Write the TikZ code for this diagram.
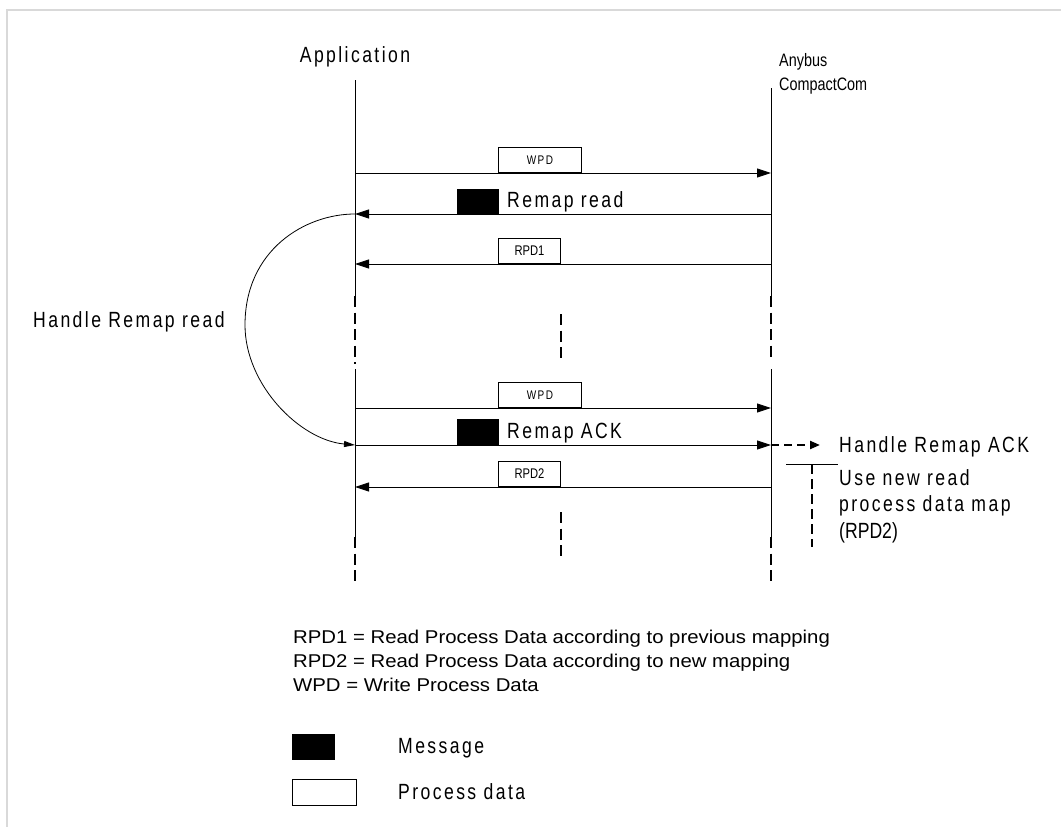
\documentclass[tikz,border=0pt]{standalone}
\usepackage{fontspec}
\setmainfont{Liberation Sans}
\newfontfamily\trackfont[FakeStretch=0.8,LetterSpace=11]{Liberation Sans}
\newfontfamily\narrowfont[FakeStretch=0.8]{Liberation Sans}
\newfontfamily\widefont[FakeStretch=1.1]{Liberation Sans}
\usetikzlibrary{arrows.meta}
\usetikzlibrary{positioning}

\tikzset{
  frame/.style={draw=black!15, line width=2pt},
  life/.style={line width=0.9pt},
  lifedash/.style={line width=2.8pt, dash pattern=on 11pt off 5.5pt},
  msg/.style={line width=0.9pt, -{Triangle[length=14pt,width=9pt]}},
  ackdash/.style={line width=2.2pt, dash pattern=on 8pt off 5pt, -{Triangle[length=10pt,width=8pt]}},
  curvearrow/.style={line width=0.8pt, -{Triangle[length=11pt,width=6pt]}},
  databox/.style={draw, line width=0.9pt, minimum height=25pt, inner sep=0pt,
    font=\narrowfont\fontsize{14}{16}\selectfont},
  msgbox/.style={fill=black, minimum width=42pt, minimum height=25pt, inner sep=0pt},
  lbl/.style={inner sep=0pt, font=\trackfont\fontsize{22}{26.5}\selectfont},
  legendtxt/.style={inner sep=0pt, font=\widefont\fontsize{18.5}{23}\selectfont}
}

\begin{document}
\begin{tikzpicture}[x=1pt,y=-1pt]
    \useasboundingbox (0,0) rectangle (1061,827);
    % Rahmen
    \draw[frame] (7,827) -- (7,10) -- (1061,10);

    % Teilnehmer
    \node[lbl, anchor=base] (app) at (355,62) {Application};
    \node[inner sep=0pt, anchor=base west, align=left,
          font=\narrowfont\fontsize{18}{24}\selectfont] (abcc) at (779,90) {Anybus\\CompactCom};

    % Lebenslinien
    \coordinate (aTop) at (355,80);  \coordinate (bTop) at (771,88);
    \coordinate (aD1) at (355,296);  \coordinate (bD1) at (771,296);
    \coordinate (aD2) at (355,364);  \coordinate (bD2) at (771,362);
    \coordinate (aS2) at (355,369);  \coordinate (bS2) at (771,369);
    \coordinate (aD3) at (355,537);  \coordinate (bD3) at (771,537);
    \coordinate (aEnd) at (355,581); \coordinate (bEnd) at (771,582);
    \draw[life] (aTop) -- (aD1);  \draw[life] (bTop) -- (bD1);
    \draw[lifedash] (aD1) -- (aD2);  \draw[lifedash] (bD1) -- (bD2);
    \draw[life] (aS2) -- (aD3);  \draw[life] (bS2) -- (bD3);
    \draw[lifedash] (aD3) -- (aEnd);  \draw[lifedash] (bD3) -- (bEnd);

    % mittlere Striche
    \coordinate (mA) at (561,314); \coordinate (mB) at (561,358);
    \coordinate (mC) at (561,512); \coordinate (mD) at (561,557);
    \draw[lifedash] (mA) -- (mB);
    \draw[lifedash] (mC) -- (mD);

    % Zyklus 1
    \coordinate (a1) at (355,173); \coordinate (b1) at (771,173);
    \coordinate (a2) at (355,214); \coordinate (b2) at (771,214);
    \coordinate (a3) at (355,264); \coordinate (b3) at (771,264);
    \draw[msg] (a1) -- (b1);
    \draw[msg] (b2) -- (a2);
    \draw[msg] (b3) -- (a3);
    \node[databox, minimum width=83pt, anchor=south west] (wpd1) at (498,173)
        {\trackfont\fontsize{12.5}{14}\selectfont WPD};
    \node[msgbox, anchor=south west] (mread) at (457,214) {};
    \node[lbl, anchor=base west] (tread) at (507,207.5) {Remap read};
    \node[databox, minimum width=62pt, anchor=south west] (rpd1) at (498,264) {RPD1};

    % Zyklus 2
    \coordinate (a4) at (355,408); \coordinate (b4) at (771,408);
    \coordinate (a5) at (355,445); \coordinate (b5) at (771,445);
    \coordinate (a6) at (355,487); \coordinate (b6) at (771,487);
    \draw[msg] (a4) -- (b4);
    \draw[msg] (a5) -- (b5);
    \draw[msg] (b6) -- (a6);
    \node[databox, minimum width=83pt, anchor=south west] (wpd2) at (498,408)
        {\trackfont\fontsize{12.5}{14}\selectfont WPD};
    \node[msgbox, minimum height=26pt, anchor=south west] (mack) at (457,445) {};
    \node[lbl, anchor=base west] (tack) at (507,438) {Remap ACK};
    \node[databox, minimum width=62pt, anchor=south west] (rpd2) at (498,487) {RPD2};

    % Handle Remap read
    \draw[curvearrow] (a2) .. controls (305,214) and (245,250) .. (245,325)
                     .. controls (245,385) and (300,440) .. (a5);
    \node[lbl, anchor=base west] (hread) at (33,327) {Handle Remap read};

    % Handle Remap ACK
    \coordinate (ackEnd) at (820,445);
    \draw[ackdash] (b5) -- (ackEnd);
    \node[lbl, anchor=base west] (hack) at (839,452) {Handle Remap ACK};
    \coordinate (uL) at (786,464); \coordinate (uR) at (838,464);
    \coordinate (uTop) at (812,464); \coordinate (uEnd) at (812,547);
    \draw[life] (uL) -- (uR);
    \draw[line width=2.2pt, dash pattern=on 10pt off 5pt] (uTop) -- (uEnd);
    \node[lbl, anchor=base west, align=left] (usenew) at (839,538)
        {Use new read\\process data map\\{\narrowfont(RPD2)}};

    % Legende
    \node[legendtxt, anchor=base west] (leg1) at (293,643)
        {RPD1 = Read Process Data according to previous mapping};
    \node[legendtxt, anchor=base west] (leg2) at (293,667)
        {RPD2 = Read Process Data according to new mapping};
    \node[legendtxt, anchor=base west] (leg3) at (293,691)
        {WPD = Write Process Data};
    \node[msgbox, minimum width=43pt, minimum height=26pt, anchor=north west] (legmsg) at (292,734) {};
    \node[lbl, anchor=base west] (legmsgt) at (398,753) {Message};
    \node[databox, minimum width=64pt, minimum height=26pt, anchor=north west] (legpd) at (292,779) {};
    \node[lbl, anchor=base west] (legpdt) at (398,799) {Process data};
\end{tikzpicture}
\end{document}
